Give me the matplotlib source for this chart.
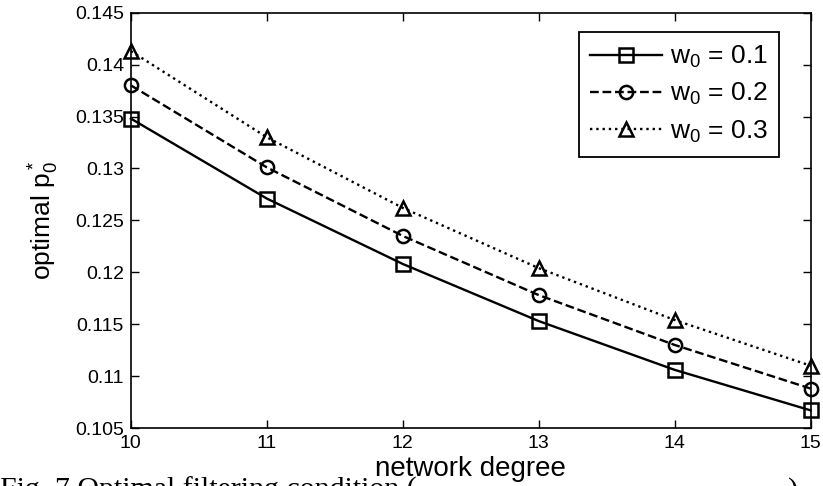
import matplotlib
matplotlib.use("Agg")
import matplotlib.pyplot as plt

# Datos
degree = [10, 11, 12, 13, 14, 15]
p_w01 = [0.1348, 0.1271, 0.1208, 0.1153, 0.1106, 0.1067]
p_w02 = [0.1380, 0.1301, 0.1235, 0.1178, 0.1130, 0.1088]
p_w03 = [0.1413, 0.1330, 0.1262, 0.1204, 0.1154, 0.1110]
labels = [r"$\mathrm{w}_0$ = 0.1", r"$\mathrm{w}_0$ = 0.2", r"$\mathrm{w}_0$ = 0.3"]
yticks = [0.105, 0.11, 0.115, 0.12, 0.125, 0.13, 0.135, 0.14, 0.145]
yticklabels = ["0.105", "0.11", "0.115", "0.12", "0.125", "0.13", "0.135", "0.14", "0.145"]

plt.rcParams["font.family"] = ["Liberation Sans", "DejaVu Sans"]
plt.rcParams["mathtext.fontset"] = "custom"
plt.rcParams["mathtext.rm"] = "Liberation Sans"
plt.rcParams["mathtext.it"] = "Liberation Sans"

fig = plt.figure(figsize=(8.23, 4.86), dpi=100)
ax = fig.add_axes([0.159, 0.1193, 0.826, 0.8546])

styles = [("-", "s"), ("--", "o"), (":", "^")]
for vals, lab, (ls, mk) in zip([p_w01, p_w02, p_w03], labels, styles):
    ax.plot(degree, vals, color="black", linestyle=ls, linewidth=1.7,
            marker=mk, markersize=9.5, markerfacecolor="none",
            markeredgewidth=1.8, markeredgecolor="black", label=lab,
            clip_on=False, zorder=3)

ax.set_xlim(10, 15)
ax.set_ylim(0.105, 0.145)
ax.set_xticks(degree)
ax.set_yticks(yticks)
ax.set_yticklabels(yticklabels)
ax.tick_params(direction="in", top=True, right=True, length=6, width=1,
               labelsize=14, pad=5)
for sp in ax.spines.values():
    sp.set_linewidth(1.2)

ax.set_xlabel("network degree", fontsize=20, labelpad=3)
ax.set_ylabel(r"optimal $\mathrm{p}_0^*$", fontsize=19, labelpad=10)

leg = ax.legend(loc="upper right", bbox_to_anchor=(0.954, 0.9535),
                borderaxespad=0, fontsize=19, handlelength=2.7,
                handletextpad=0.3, labelspacing=0.42, borderpad=0.45,
                fancybox=False, framealpha=1, edgecolor="black")
leg.get_frame().set_linewidth(1.3)

# pie de figura cortado en el borde inferior
fig.text(0.0, -0.0243, "Fig. 7 Optimal filtering condition (",
         fontfamily="Liberation Serif", fontsize=21.5, va="baseline")
fig.text(788 / 823, -0.0243, ")", fontfamily="Liberation Serif",
         fontsize=21.5, va="baseline")

fig.savefig("out.png", dpi=100)
